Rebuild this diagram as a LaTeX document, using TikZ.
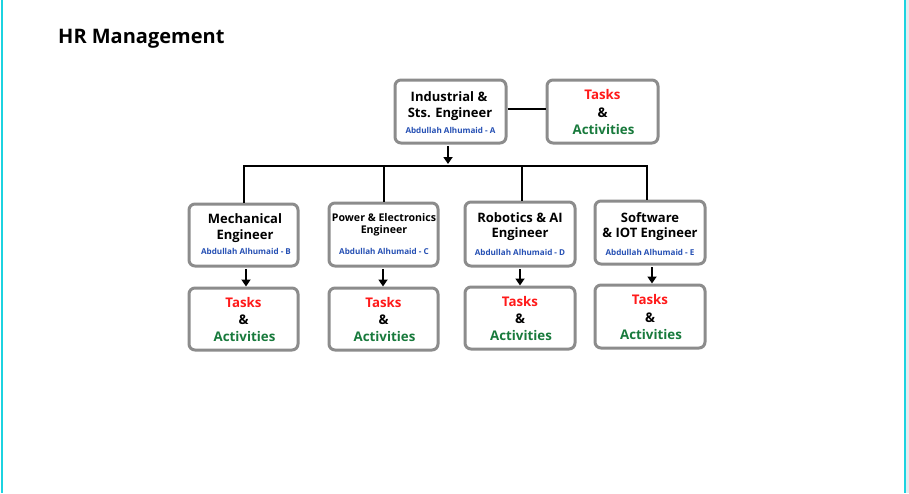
\documentclass[tikz,border=0pt]{standalone}
\usepackage{fontspec}
\setmainfont{Open Sans}
\usetikzlibrary{arrows.meta}
\definecolor{boxgray}{HTML}{8C8C8C}
\definecolor{taskred}{HTML}{FF1A1A}
\definecolor{actgreen}{HTML}{187A3C}
\definecolor{nameblue}{HTML}{2650B4}
\definecolor{edgecyan}{HTML}{1CD3E0}
\definecolor{stripgray}{HTML}{E6EAEE}
\tikzset{
  x=1pt, y=-1pt,
  rolebox/.style={draw=boxgray, line width=3pt, rounded corners=6pt, fill=white, inner sep=0pt},
  txt/.style={inner sep=0pt, font=\bfseries\fontsize{13}{15}\selectfont, text=black},
  smalltxt/.style={inner sep=0pt, font=\bfseries\fontsize{10.6}{12}\selectfont, text=black},
  nametxt/.style={inner sep=0pt, font=\bfseries\fontsize{8.1}{9}\selectfont, text=nameblue},
  tasktxt/.style={inner sep=0pt, font=\bfseries\fontsize{13.3}{15}\selectfont, text=taskred},
  amptxt/.style={inner sep=0pt, font=\bfseries\fontsize{13.3}{15}\selectfont, text=black},
  acttxt/.style={inner sep=0pt, font=\bfseries\fontsize{13.3}{15}\selectfont, text=actgreen},
  conn/.style={draw=black, line width=2.2pt},
  arr/.style={conn, -{Triangle[length=7pt,width=9pt]}},
}
\newcommand{\taskstext}[2]{%
  \node[tasktxt] (#1t) at ([yshift=16.5pt]#2.center) {Tasks};
  \node[amptxt] (#1m) at ([yshift=-1pt]#2.center) {\&};
  \node[acttxt] (#1c) at ([xshift=1pt,yshift=-18pt]#2.center) {Activities};
}
\begin{document}
\begin{tikzpicture}
\useasboundingbox (0,0) rectangle (909,493);
\fill[white] (0,0) rectangle (909,493);
\fill[stripgray] (906,0) rectangle (909,493);
\fill[edgecyan] (0.5,0) rectangle (3,493);
\fill[edgecyan] (903.5,0) rectangle (906,493);

\node[anchor=base west, inner sep=0pt, font=\bfseries\fontsize{20}{24}\selectfont] (title) at (58,43.5) {HR Management};

% top row
\node[rolebox, minimum width=111pt, minimum height=63pt] (A) at (450.5,111.5) {};
\node[rolebox, minimum width=111pt, minimum height=63pt] (AT) at (602.5,111.5) {};
\node[txt] (A1) at (449,97) {Industrial \&};
\node[txt] (A2) at (450,114) {Sts. Engineer};
\node[nametxt] (A3) at (450.5,130) {Abdullah Alhumaid - A};
\taskstext{AT}{AT}

% second row
\node[rolebox, minimum width=109pt, minimum height=62pt] (B) at (243.5,235) {};
\node[rolebox, minimum width=109pt, minimum height=63pt] (C) at (383.5,234.5) {};
\node[rolebox, minimum width=110pt, minimum height=64pt] (D) at (520,234) {};
\node[rolebox, minimum width=110pt, minimum height=63pt] (E) at (650,232.5) {};

\node[txt] (B1) at (245,219) {Mechanical};
\node[txt] (B2) at (245,236) {Engineer};
\node[nametxt] (B3) at (246,251) {Abdullah Alhumaid - B};

\node[smalltxt] (C1) at (384,218) {Power \& Electronics};
\node[smalltxt] (C2) at (384,231) {Engineer};
\node[nametxt] (C3) at (384,251) {Abdullah Alhumaid - C};

\node[txt] (D1) at (520,218) {Robotics \& AI};
\node[txt] (D2) at (520,234) {Engineer};
\node[nametxt] (D3) at (520,252) {Abdullah Alhumaid - D};

\node[txt] (E1) at (650,218) {Software};
\node[txt] (E2) at (650,234) {\& IOT Engineer};
\node[nametxt] (E3) at (650,252) {Abdullah Alhumaid - E};

% third row
\node[rolebox, minimum width=109pt, minimum height=62pt] (BT) at (243.5,319) {};
\node[rolebox, minimum width=109pt, minimum height=62pt] (CT) at (383.5,319) {};
\node[rolebox, minimum width=110pt, minimum height=62pt] (DT) at (520,318) {};
\node[rolebox, minimum width=110pt, minimum height=63pt] (ET) at (650,316.5) {};
\taskstext{BT}{BT}
\taskstext{CT}{CT}
\taskstext{DT}{DT}
\taskstext{ET}{ET}

% connectors
\coordinate (hub) at (448,166);
\draw[conn] (A.east |- 0,109) -- (AT.west |- 0,109);
\draw[arr] (A.south -| hub) ++(0,1.5) -- (hub |- 0,164);
\draw[conn] (244,166) -- (647,166);
\draw[conn] (244,165) -- (B.north -| 244,0);
\draw[conn] (384,165) -- (C.north -| 384,0);
\draw[conn] (522,165) -- (D.north -| 522,0);
\draw[conn] (647,165) -- (E.north -| 647,0);
\draw[arr] (B.south -| 246,0) ++(0,1.5) -- (BT.north -| 246,0);
\draw[arr] (C.south -| 383,0) ++(0,1.5) -- (CT.north -| 383,0);
\draw[arr] (D.south -| 520,0) ++(0,1.5) -- (DT.north -| 520,0);
\draw[arr] (E.south -| 652,0) ++(0,1.5) -- (ET.north -| 652,0);
\end{tikzpicture}
\end{document}
